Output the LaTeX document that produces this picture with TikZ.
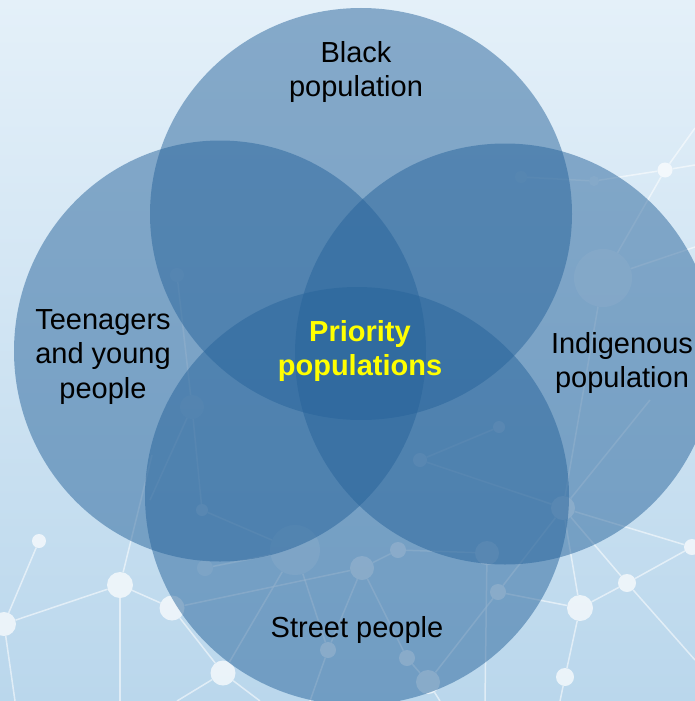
\documentclass[tikz,border=0pt]{standalone}
\usepackage{fontspec}
\setmainfont{Liberation Sans}
\usetikzlibrary{shapes.geometric}
\begin{document}
\begin{tikzpicture}[x=1pt,y=-1pt,
  venn/.style={ellipse, inner sep=0pt, fill={rgb,255:red,40;green,100;blue,155}, fill opacity=0.5},
  lbl/.style={text=black, align=center, font=\fontsize{29}{34.5}\selectfont},
  core/.style={text={rgb,255:red,255;green,255;blue,0}, align=center, font=\fontsize{29}{34.5}\selectfont\bfseries},
  net/.style={draw=white, line width=1.5pt, opacity=0.55},
  dot/.style={circle, fill=white, fill opacity=0.7, inner sep=0pt},
  fdot/.style={circle, fill=white, fill opacity=0.3, inner sep=0pt},
]
\useasboundingbox (0,0) rectangle (695,701);
\shade[top color={rgb,255:red,228;green,240;blue,249}, bottom color={rgb,255:red,186;green,215;blue,236}] (0,0) rectangle (695,701);

% background network
\node[dot, minimum size=15pt] (n1) at (665,170) {};
\node[fdot, minimum size=58pt] (n2) at (603,278) {};
\node[fdot, minimum size=10pt] (n3) at (594,181) {};
\node[fdot, minimum size=12pt] (n4) at (521,177) {};
\node[dot, minimum size=14pt] (n5) at (39,541) {};
\node[dot, minimum size=26pt] (n6) at (120,585) {};
\node[dot, minimum size=24pt] (n7) at (4,624) {};
\node[dot, minimum size=25pt] (n8) at (172,608) {};
\node[dot, minimum size=25pt] (n9) at (223,673) {};
\node[fdot, minimum size=50pt] (n10) at (295,550) {};
\node[dot, minimum size=24pt] (n11) at (362,568) {};
\node[dot, minimum size=16pt] (n12) at (398,550) {};
\node[dot, minimum size=24pt] (n13) at (487,553) {};
\node[dot, minimum size=16pt] (n14) at (498,592) {};
\node[dot, minimum size=26pt] (n15) at (580,608) {};
\node[dot, minimum size=18pt] (n16) at (627,583) {};
\node[dot, minimum size=16pt] (n17) at (692,547) {};
\node[dot, minimum size=18pt] (n18) at (565,677) {};
\node[dot, minimum size=16pt] (n19) at (328,650) {};
\node[dot, minimum size=16pt] (n20) at (407,658) {};
\node[dot, minimum size=24pt] (n21) at (428,682) {};
\node[fdot, minimum size=14pt] (n22) at (177,275) {};
\node[fdot, minimum size=24pt] (n23) at (192,407) {};
\node[dot, minimum size=12pt] (n24) at (202,510) {};
\node[dot, minimum size=14pt] (n25) at (420,460) {};
\node[dot, minimum size=12pt] (n26) at (499,427) {};
\node[dot, minimum size=24pt] (n27) at (563,508) {};
\node[fdot, minimum size=16pt] (n28) at (205,568) {};

\coordinate (b1) at (695,128);
\coordinate (b2) at (695,165);
\coordinate (b3) at (695,247);
\coordinate (b4) at (120,701);
\coordinate (b5) at (15,701);
\coordinate (b6) at (260,701);
\coordinate (b7) at (177,701);
\coordinate (b8) at (485,701);
\coordinate (b9) at (695,660);
\coordinate (b10) at (560,701);
\coordinate (b11) at (310,701);
\coordinate (b12) at (440,701);
\coordinate (b13) at (650,400);
\coordinate (b14) at (150,500);
\coordinate (b15) at (152,455);

\draw[net] (n1) -- (b1);
\draw[net] (n1) -- (b2);
\draw[net] (n1) -- (n3);
\draw[net] (n1) -- (n2);
\draw[net] (n3) -- (n4);
\draw[net] (n2) -- (b3);
\draw[net] (n2) -- (n27);
\draw[net] (n5) -- (n7);
\draw[net] (n7) -- (n6);
\draw[net] (n7) -- (b5);
\draw[net] (n6) -- (n8);
\draw[net] (n6) -- (b4);
\draw[net] (n6) -- (b15);
\draw[net] (n8) -- (n9);
\draw[net] (n8) -- (n11);
\draw[net] (n9) -- (n10);
\draw[net] (n9) -- (b6);
\draw[net] (n9) -- (b7);
\draw[net] (n10) -- (n19);
\draw[net] (n10) -- (n28);
\draw[net] (n11) -- (n19);
\draw[net] (n11) -- (n20);
\draw[net] (n11) -- (n12);
\draw[net] (n12) -- (n13);
\draw[net] (n13) -- (b8);
\draw[net] (n14) -- (n15);
\draw[net] (n14) -- (n21);
\draw[net] (n14) -- (n27);
\draw[net] (n15) -- (n27);
\draw[net] (n15) -- (n16);
\draw[net] (n15) -- (n18);
\draw[net] (n16) -- (n17);
\draw[net] (n16) -- (n27);
\draw[net] (n16) -- (b9);
\draw[net] (n17) -- (n27);
\draw[net] (n18) -- (b10);
\draw[net] (n19) -- (b11);
\draw[net] (n20) -- (n21);
\draw[net] (n21) -- (b12);
\draw[net] (n25) -- (n26);
\draw[net] (n25) -- (n27);
\draw[net] (n27) -- (b13);
\draw[net] (n23) -- (n22);
\draw[net] (n23) -- (n24);
\draw[net] (n23) -- (b14);
\draw[net] (n24) -- (n10);

% Venn circles
\node[venn, minimum width=422pt, minimum height=412pt] (ctop) at (361,214) {};
\node[venn, minimum width=412pt, minimum height=421pt] (cleft) at (220,351) {};
\node[venn, minimum width=420pt, minimum height=421pt] (cright) at (505,354) {};
\node[venn, minimum width=424pt, minimum height=418pt] (cbot) at (357,496) {};

% labels
\node[lbl] (tblack) at (356,72) {Black\\population};
\node[lbl] (tteen) at (103,357) {Teenagers\\and young\\people};
\node[lbl] (tind) at (622,363) {Indigenous\\population};
\node[lbl] (tstreet) at (357,630) {Street people};
\node[core] (tcore) at (360,351) {Priority\\populations};
\end{tikzpicture}
\end{document}
